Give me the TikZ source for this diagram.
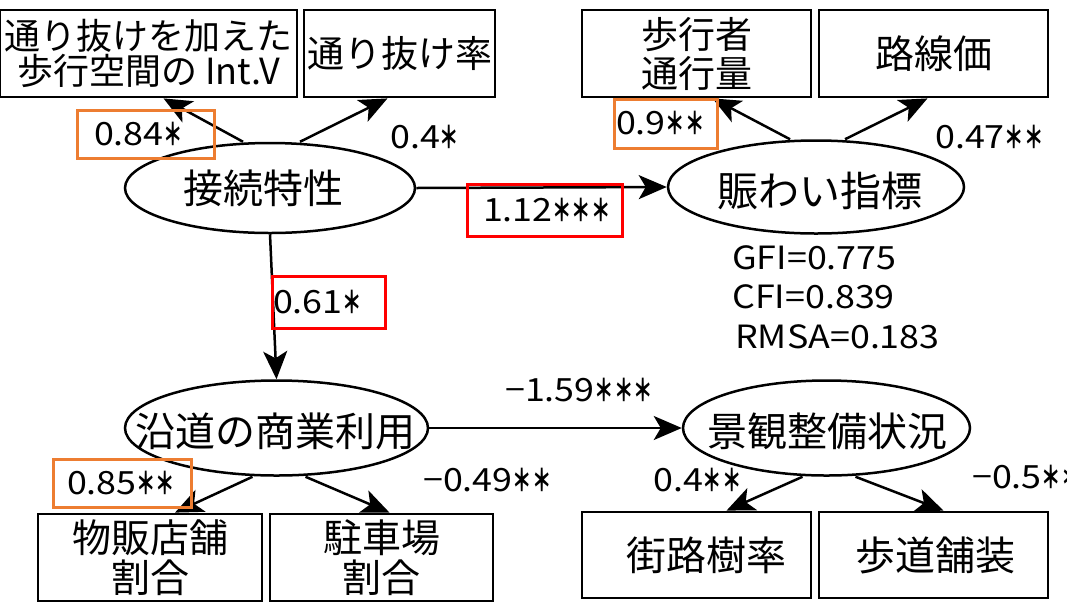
\documentclass[tikz,border=0pt]{standalone}
\usepackage{fontspec}
\usepackage{graphicx}
\setmainfont{Noto Sans CJK JP}
\newfontfamily\numfont[FakeStretch=1.12]{Noto Sans CJK JP}
\newcommand\st{{\bfseries\scalebox{0.54}[0.95]{＊}}}
\usetikzlibrary{shapes.geometric,arrows.meta}
\definecolor{hlorange}{RGB}{237,125,49}
\definecolor{hlred}{RGB}{255,0,0}
\tikzset{
  box/.style={draw, line width=2.8pt, rectangle, inner sep=0pt, align=center},
  lat/.style={draw, ellipse, line width=2.5pt, inner sep=0pt},
  arr/.style={-{Stealth[length=28pt,width=24pt,inset=7pt]}, line width=2.5pt},
  num/.style={font=\numfont\fontsize{32}{36}\selectfont, inner sep=0pt},
  hlo/.style={num, draw=hlorange, line width=3pt, align=left, inner ysep=0pt},
  hlr/.style={num, draw=hlred, line width=3pt, align=left, inner ysep=0pt},
  jbig/.style={font=\fontsize{40}{40}\selectfont, inner sep=0pt},
}
\begin{document}
\begin{tikzpicture}[x=1pt,y=-1pt]
\useasboundingbox (0,0) rectangle (1067,606);
\clip (0,0) rectangle (1067,606);
% observed variables (top)
\node[box, minimum width=297, minimum height=87, font=\fontsize{36}{33}\selectfont] (bA) at (148.5,53.5) {通り抜けを加えた\\歩行空間の Int.V};
\node[box, minimum width=191, minimum height=87, font=\fontsize{37}{37}\selectfont] (bB) at (399.5,53.5) {通り抜け率};
\node[box, minimum width=229, minimum height=87, font=\fontsize{37}{39}\selectfont] (bC) at (696.5,53.5) {歩行者\\通行量};
\node[box, minimum width=229, minimum height=87, font=\fontsize{39}{39}\selectfont] (bD) at (933.5,53.5) {路線価};
% observed variables (bottom)
\node[box, minimum width=224, minimum height=87, font=\fontsize{39}{40}\selectfont] (bE) at (150,557.5) {物販店舗\\割合};
\node[box, minimum width=223, minimum height=87, font=\fontsize{39}{40}\selectfont] (bF) at (381.5,557.5) {駐車場\\割合};
\node[box, minimum width=229, minimum height=86, font=\fontsize{40}{40}\selectfont] (bG) at (696.5,555) {\hspace*{20pt}街路樹率};
\node[box, minimum width=229, minimum height=86, font=\fontsize{40}{40}\selectfont] (bH) at (933.5,555) {\hspace*{3pt}歩道舗装};
% latent variables
\node[lat, minimum width=290, minimum height=90] (e1) at (270,188) {};
\node[jbig] (e1t) at (263,188) {接続特性};
\node[lat, minimum width=296, minimum height=93] (e2) at (816,187) {};
\node[jbig, font=\fontsize{41}{41}\selectfont] (e2t) at (820,191) {賑わい指標};
\node[lat, minimum width=303, minimum height=95] (e3) at (276.5,428) {};
\node[jbig] (e3t) at (275,431) {沿道の商業利用};
\node[lat, minimum width=287, minimum height=95] (e4) at (826.5,428) {};
\node[jbig] (e4t) at (827,431) {景観整備状況};
% connectors
\draw[arr] ([xshift=-27pt]e1.north) -- ([xshift=15pt]bA.south);
\draw[arr] ([xshift=30pt]e1.north) -- ([xshift=-12pt]bB.south);
\draw[arr] ([xshift=-26pt]e2.north) -- ([xshift=16pt]bC.south);
\draw[arr] ([xshift=29pt]e2.north) -- ([xshift=-6pt]bD.south);
\draw[arr] (e1.east) -- (e2.west);
\draw[arr] (e1.south) -- (e3.north);
\draw[arr] (e3.east) -- (e4.west);
\draw[arr] ([xshift=-24pt]e3.south) -- ([xshift=25pt]bE.north);
\draw[arr] ([xshift=29pt]e3.south) -- ([xshift=8pt]bF.north);
\draw[arr] ([xshift=-24pt]e4.south) -- ([xshift=30pt]bG.north);
\draw[arr] ([xshift=29pt]e4.south) -- ([xshift=10pt]bH.north);
% coefficients
\node[hlo, inner xsep=17pt, text width=103pt, minimum height=48] (l1) at (145.5,134) {0.84\st};
\node[num, anchor=west] (l2) at (390,137) {0.4\st};
\node[hlr, inner xsep=16pt, text width=123pt, minimum height=52] (l3) at (544.5,210) {1.12\st\st\st};
\node[hlo, inner xsep=2pt, text width=99pt, minimum height=49] (l4) at (665.5,123.5) {0.9\st\st};
\node[num, anchor=west] (l5) at (935,137) {0.47\st\st};
\node[hlr, inner xsep=1pt, text width=111pt, minimum height=52] (l6) at (328.5,302) {0.61\st};
\node[num, anchor=west] (l7) at (505,390) {−1.59\st\st\st};
\node[hlo, inner xsep=14pt, text width=110pt, minimum height=48] (l8) at (122,483) {0.85\st\st};
\node[num, anchor=west] (l9) at (423,480) {−0.49\st\st};
\node[num, anchor=west] (l10) at (653,480) {0.4\st\st};
\node[num, anchor=west] (l11) at (972,477) {−0.5\st\st};
% fit indices
\node[num, anchor=west] (s1) at (732,258) {GFI=0.775};
\node[num, anchor=west] (s2) at (732,297) {CFI=0.839};
\node[num, anchor=west] (s3) at (735,337) {RMSA=0.183};
\end{tikzpicture}
\end{document}
